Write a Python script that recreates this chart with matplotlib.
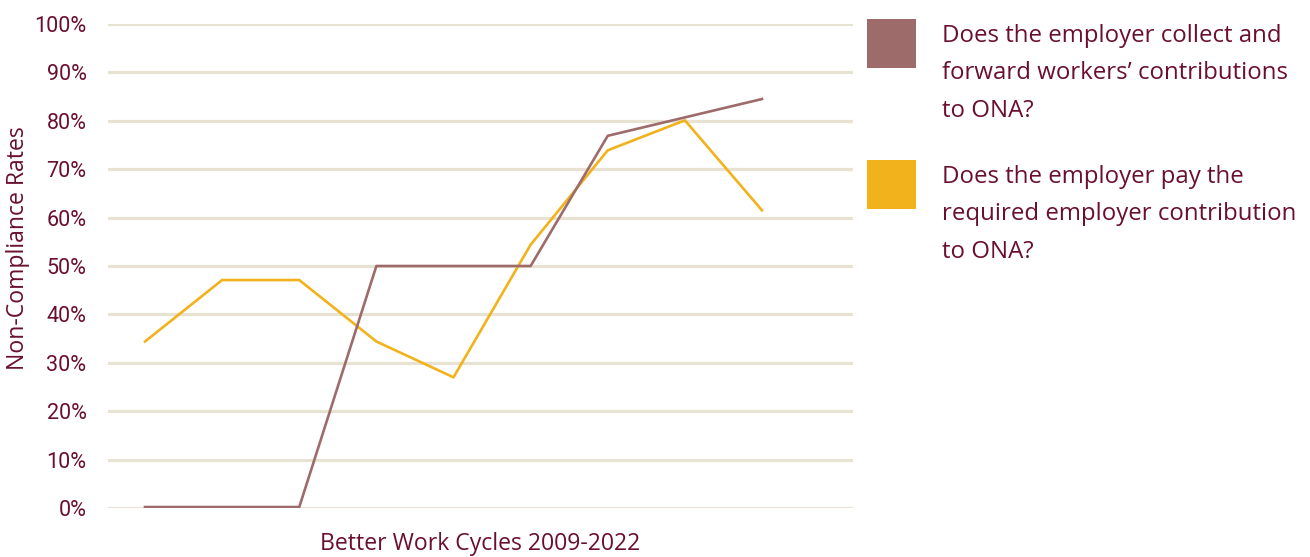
import matplotlib
matplotlib.use("Agg")
import matplotlib.pyplot as plt
from matplotlib.patches import Rectangle

cycles = list(range(1, 10))
collect_forward = [0.2, 0.2, 0.2, 50, 50, 50, 76.9, 80.7, 84.5]
employer_contrib = [34.4, 47.1, 47.1, 34.4, 27.0, 54.4, 73.9, 80.1, 61.5]
yticks = [0, 10, 20, 30, 40, 50, 60, 70, 80, 90, 100]
series_labels = [
    "Does the employer collect and\nforward workers\u2019 contributions\nto ONA?",
    "Does the employer pay the\nrequired employer contribution\nto ONA?",
]
colors = ["#9E6B6B", "#F2B21B"]
text_color = "#6A0F2F"
grid_color = "#E8E2D3"

W, H = 1310, 557
fig = plt.figure(figsize=(W / 100, H / 100), dpi=100)
ax = fig.add_axes([108 / W, 1 - 508 / H, (853 - 108) / W, (508 - 24) / H])

for v in yticks:
    ax.axhline(v, color=grid_color, lw=2.3, zorder=0)

ax.plot(cycles, collect_forward, color=colors[0], lw=1.9, zorder=3)
ax.plot(cycles, employer_contrib, color=colors[1], lw=1.9, zorder=2)

ax.set_ylim(0, 100)
ax.set_xlim(0.52, 10.18)
ax.set_yticks(yticks)
ax.set_yticklabels([f"{v}%" for v in yticks],
                   fontfamily=["Roboto", "DejaVu Sans"],
                   fontsize=15.5, color=text_color)
ax.tick_params(axis="y", length=0, pad=15.5)
ax.set_xticks([])
for s in ax.spines.values():
    s.set_visible(False)

fig.text(18 / W, 1 - 248 / H, "Non-Compliance Rates", rotation=90,
         ha="center", va="center", fontsize=16.6, color=text_color,
         family=["Open Sans", "DejaVu Sans"])
fig.text(480 / W, 1 - 544 / H, "Better Work Cycles 2009-2022",
         ha="center", va="center", fontsize=16.6, color=text_color,
         family=["Open Sans", "DejaVu Sans"])

# legend
sq_tops = [19, 160]
for top, col, lab in zip(sq_tops, colors, series_labels):
    fig.patches.append(Rectangle((867 / W, 1 - (top + 49) / H), 49 / W, 49 / H,
                                 transform=fig.transFigure, color=col, lw=0))
    fig.text(942 / W, 1 - (top + 5) / H, lab, ha="left", va="top",
             fontsize=17.3, color=text_color, linespacing=1.74,
             family=["Open Sans", "DejaVu Sans"])

fig.savefig("out.png", dpi=100)
